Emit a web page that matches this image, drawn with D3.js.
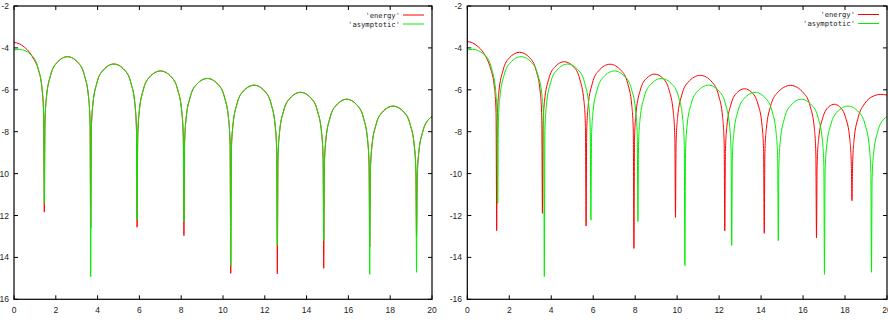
<!DOCTYPE html>
<html><head><meta charset="utf-8">
<script src="https://cdn.jsdelivr.net/npm/d3@7/dist/d3.min.js"></script>
<style>body{margin:0;background:#fff}svg{display:block}</style>
</head><body><svg id="c" width="888" height="324"></svg>
<script>
const xTicks = [0, 2, 4, 6, 8, 10, 12, 14, 16, 18, 20];
const yTicks = [-2, -4, -6, -8, -10, -12, -14, -16];
const legendLabels = ["'energy'", "'asymptotic'"];

// 'asymptotic' series (same in both panels): [x, value]
const asymptotic = [
  [0, -4.10], [0.25, -4.07], [0.85, -4.36], [1.15, -4.96], [1.35, -6.03], [1.42, -7.23], [1.45, -11.42],
  [1.48, -7.58], [1.55, -6.38], [1.75, -5.31], [2.05, -4.71], [2.56, -4.42], [3.07, -4.71], [3.37, -5.31], [3.57, -6.38], [3.64, -7.58], [3.67, -14.92],
  [3.70, -7.93], [3.77, -6.73], [3.97, -5.66], [4.27, -5.06], [4.78, -4.77], [5.29, -5.06], [5.59, -5.66], [5.79, -6.73], [5.86, -7.93], [5.89, -12.22],
  [5.92, -8.26], [5.99, -7.06], [6.19, -5.99], [6.49, -5.39], [7.01, -5.10], [7.53, -5.39], [7.83, -5.99], [8.03, -7.06], [8.10, -8.26], [8.13, -12.29],
  [8.16, -8.62], [8.23, -7.42], [8.43, -6.35], [8.73, -5.75], [9.25, -5.46], [9.77, -5.75], [10.07, -6.35], [10.27, -7.42], [10.34, -8.62], [10.37, -14.40],
  [10.40, -8.94], [10.47, -7.74], [10.67, -6.67], [10.97, -6.07], [11.49, -5.78], [12.00, -6.07], [12.30, -6.67], [12.50, -7.74], [12.57, -8.94], [12.60, -13.43],
  [12.63, -9.28], [12.70, -8.08], [12.90, -7.01], [13.20, -6.41], [13.71, -6.12], [14.22, -6.41], [14.52, -7.01], [14.72, -8.08], [14.79, -9.28], [14.82, -13.20],
  [14.85, -9.61], [14.92, -8.41], [15.12, -7.34], [15.42, -6.74], [15.92, -6.45], [16.42, -6.74], [16.72, -7.34], [16.92, -8.41], [16.99, -9.61], [17.02, -14.81],
  [17.05, -9.94], [17.12, -8.74], [17.32, -7.67], [17.62, -7.07], [18.14, -6.78], [18.66, -7.07], [18.96, -7.67], [19.16, -8.74], [19.23, -9.94], [19.26, -14.71],
  [19.29, -10.26], [19.36, -9.06], [19.56, -7.99], [19.86, -7.39], [20.0, -7.28]
];

// 'energy' series, left panel
const energyLeft = [
  [0, -3.74], [0.25, -3.80], [0.5, -3.97], [0.75, -4.22], [0.95, -4.55], [1.15, -4.98], [1.35, -6.03], [1.42, -7.23], [1.45, -11.84],
  [1.48, -7.58], [1.55, -6.38], [1.75, -5.31], [2.05, -4.71], [2.56, -4.42], [3.07, -4.71], [3.37, -5.31], [3.57, -6.38], [3.64, -7.58], [3.67, -12.60],
  [3.70, -7.93], [3.77, -6.73], [3.97, -5.66], [4.27, -5.06], [4.78, -4.77], [5.29, -5.06], [5.59, -5.66], [5.79, -6.73], [5.86, -7.93], [5.89, -12.56],
  [5.92, -8.26], [5.99, -7.06], [6.19, -5.99], [6.49, -5.39], [7.01, -5.10], [7.53, -5.39], [7.83, -5.99], [8.03, -7.06], [8.10, -8.26], [8.13, -12.96],
  [8.16, -8.62], [8.23, -7.42], [8.43, -6.35], [8.73, -5.75], [9.25, -5.46], [9.77, -5.75], [10.07, -6.35], [10.27, -7.42], [10.34, -8.62], [10.37, -14.76],
  [10.40, -8.94], [10.47, -7.74], [10.67, -6.67], [10.97, -6.07], [11.49, -5.78], [12.00, -6.07], [12.30, -6.67], [12.50, -7.74], [12.57, -8.94], [12.60, -14.79],
  [12.63, -9.28], [12.70, -8.08], [12.90, -7.01], [13.20, -6.41], [13.71, -6.12], [14.22, -6.41], [14.52, -7.01], [14.72, -8.08], [14.79, -9.28], [14.82, -14.52],
  [14.85, -9.61], [14.92, -8.41], [15.12, -7.34], [15.42, -6.74], [15.92, -6.45], [16.42, -6.74], [16.72, -7.34], [16.92, -8.41], [16.99, -9.61], [17.02, -13.50],
  [17.05, -9.94], [17.12, -8.74], [17.32, -7.67], [17.62, -7.07], [18.14, -6.78], [18.66, -7.07], [18.96, -7.67], [19.16, -8.74], [19.23, -9.94], [19.26, -13.00],
  [19.29, -10.26], [19.36, -9.06], [19.56, -7.99], [19.86, -7.39], [20.0, -7.28]
];

// 'energy' series, right panel
const energyRight = [
  [0, -3.70], [0.25, -3.76], [0.5, -3.93], [0.75, -4.20], [0.95, -4.55], [1.10, -4.95], [1.30, -5.95], [1.37, -7.10], [1.40, -12.73],
  [1.43, -7.35], [1.50, -6.15], [1.70, -5.08], [2.00, -4.48], [2.49, -4.21], [2.98, -4.48], [3.28, -5.08], [3.48, -6.15], [3.55, -7.35], [3.58, -11.90],
  [3.61, -7.75], [3.68, -6.55], [3.88, -5.49], [4.18, -4.90], [4.62, -4.66], [5.06, -4.90], [5.36, -5.49], [5.56, -6.55], [5.63, -7.75], [5.66, -12.50],
  [5.69, -7.97], [5.76, -6.76], [5.96, -5.69], [6.26, -5.09], [6.80, -4.78], [7.34, -5.09], [7.64, -5.69], [7.84, -6.76], [7.91, -7.97], [7.94, -13.57],
  [7.97, -8.30], [8.04, -7.10], [8.24, -6.03], [8.54, -5.45], [8.93, -5.25], [9.32, -5.45], [9.62, -6.03], [9.82, -7.10], [9.89, -8.30], [9.92, -12.09],
  [9.95, -8.53], [10.02, -7.33], [10.22, -6.25], [10.52, -5.64], [11.10, -5.31], [11.67, -5.64], [11.97, -6.25], [12.17, -7.33], [12.24, -8.53], [12.27, -12.73],
  [12.30, -8.94], [12.37, -7.74], [12.57, -6.68], [12.87, -6.12], [13.21, -5.95], [13.55, -6.12], [13.85, -6.68], [14.05, -7.74], [14.12, -8.94], [14.15, -12.85],
  [14.18, -9.06], [14.25, -7.86], [14.45, -6.79], [14.75, -6.17], [15.40, -5.79], [16.04, -6.17], [16.34, -6.79], [16.54, -7.86], [16.61, -9.06], [16.64, -13.06],
  [16.67, -9.58], [16.74, -8.38], [16.94, -7.33], [17.24, -6.80], [17.49, -6.69], [17.73, -6.80], [18.03, -7.33], [18.23, -8.38], [18.30, -9.58], [18.33, -11.29],
  [18.36, -9.59], [18.43, -8.39], [18.63, -7.31], [18.93, -6.67], [19.33, -6.31], [19.70, -6.22], [20.0, -6.25]
];

const seriesColors = ["#ff0000", "#00ee00"];

const panels = [
  { left: 14, right: 432, energy: energyLeft, labelRight: 9, legendX: 403, legendY: 15 },
  { left: 467.3, right: 887, energy: energyRight, labelRight: 462, legendX: 858, legendY: 14.5 }
];
const plotTop = 6, plotBottom = 299.3;

const svg = d3.select("#c");
const y = d3.scaleLinear().domain([-16, -2]).range([plotBottom, plotTop]);

panels.forEach((p, i) => {
  const x = d3.scaleLinear().domain([0, 20]).range([p.left, p.right]);
  const g = svg.append("g");
  const clipId = "clip" + i;
  svg.append("clipPath").attr("id", clipId).append("rect")
    .attr("x", p.left).attr("y", plotTop).attr("width", p.right - p.left).attr("height", plotBottom - plotTop);

  const line = d3.line().x(d => x(d[0])).y(d => y(d[1])).curve(d3.curveMonotoneX);
  const curves = g.append("g").attr("clip-path", `url(#${clipId})`);
  [p.energy, asymptotic].forEach((data, k) => {
    curves.append("path").datum(data).attr("d", line)
      .attr("fill", "none").attr("stroke", seriesColors[k]).attr("stroke-width", 1);
  });

  const tk = 4;
  const ticks = g.append("g").attr("stroke", "#000").attr("stroke-width", 1);
  xTicks.forEach(t => {
    ticks.append("line").attr("x1", x(t)).attr("x2", x(t)).attr("y1", plotBottom).attr("y2", plotBottom - tk);
    ticks.append("line").attr("x1", x(t)).attr("x2", x(t)).attr("y1", plotTop).attr("y2", plotTop + tk);
  });
  yTicks.forEach(t => {
    ticks.append("line").attr("x1", p.left).attr("x2", p.left + tk).attr("y1", y(t)).attr("y2", y(t));
    ticks.append("line").attr("x1", p.right).attr("x2", p.right - tk).attr("y1", y(t)).attr("y2", y(t));
  });
  g.append("rect").attr("x", p.left).attr("y", plotTop).attr("width", p.right - p.left).attr("height", plotBottom - plotTop)
    .attr("fill", "none").attr("stroke", "#000").attr("stroke-width", 1.2);

  const lab = g.append("g").attr("font-family", "'Liberation Sans', Arial, sans-serif").attr("font-size", 8.5).attr("fill", "#222");
  xTicks.forEach(t => {
    lab.append("text").attr("x", x(t)).attr("y", 312.5).attr("text-anchor", "middle").text(String(t));
  });
  yTicks.forEach(t => {
    lab.append("text").attr("x", p.labelRight).attr("y", y(t) + 3).attr("text-anchor", "end").text(String(t));
  });

  const lg = g.append("g").attr("font-family", "'DejaVu Sans Mono', monospace").attr("font-size", 7.2).attr("fill", "#222");
  legendLabels.forEach((name, k) => {
    const ly = p.legendY + k * 9;
    lg.append("text").attr("x", p.legendX - 3).attr("y", ly + 2.5).attr("text-anchor", "end").text(name);
    lg.append("line").attr("x1", p.legendX).attr("x2", p.legendX + 21).attr("y1", ly).attr("y2", ly)
      .attr("stroke", seriesColors[k]).attr("stroke-width", 1);
  });
});
</script></body></html>
